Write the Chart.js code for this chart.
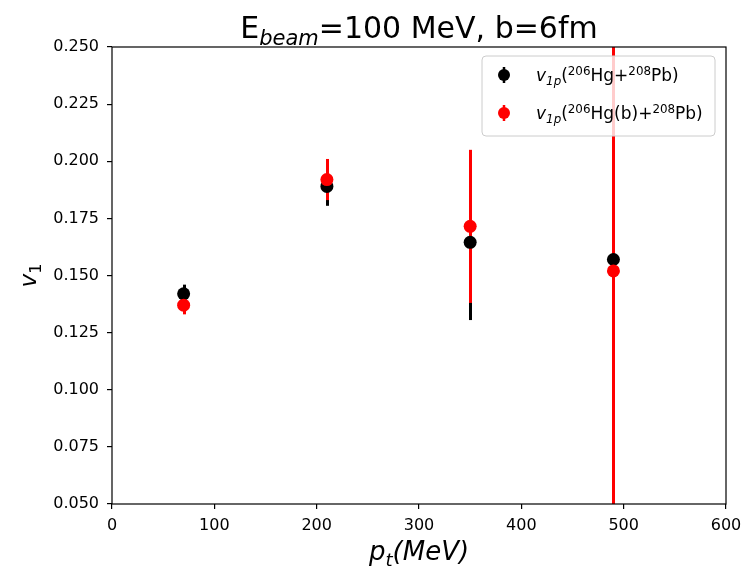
<!DOCTYPE html>
<html>
<head>
<meta charset="utf-8">
<script src="https://cdn.jsdelivr.net/npm/chart.js@4/dist/chart.umd.min.js"></script>
<style>
  html, body { margin: 0; padding: 0; background: #fff; }
</style>
</head>
<body>
<canvas id="chart" width="744" height="570"></canvas>
<script>
// values
const ptValues = [70, 210, 350, 490];
const v1Hg = [0.142, 0.189, 0.1645, 0.157];
const errHg = [0.004, 0.0085, 0.034, 0.06];
const v1HgB = [0.137, 0.192, 0.1715, 0.152];
const errHgB = [0.004, 0.009, 0.0335, 0.5];
const xTicks = [0, 100, 200, 300, 400, 500, 600];
const yTicks = [0.05, 0.075, 0.1, 0.125, 0.15, 0.175, 0.2, 0.225, 0.25];

const FONT = '"DejaVu Sans", sans-serif';

// mathtext-like pieces: {t, it, sub, sup}
function partFont(p, size) {
  const s = (p.sub || p.sup) ? size * 0.7 : size;
  return (p.it ? 'italic ' : '') + s + 'px ' + FONT;
}
function richWidth(ctx, parts, size) {
  let w = 0;
  parts.forEach(p => { ctx.font = partFont(p, size); w += ctx.measureText(p.t).width; });
  return w;
}
function drawRich(ctx, parts, x, y, size, align) {
  const w = richWidth(ctx, parts, size);
  let cx = align === 'center' ? x - w / 2 : x;
  ctx.textAlign = 'left';
  ctx.textBaseline = 'alphabetic';
  parts.forEach(p => {
    ctx.font = partFont(p, size);
    let dy = 0;
    if (p.sub) dy = size * 0.22;
    if (p.sup) dy = -size * 0.38;
    ctx.fillText(p.t, cx, y + dy);
    cx += ctx.measureText(p.t).width;
  });
}

const series = [
  { label: 'Hg', data: v1Hg, err: errHg, color: '#000000' },
  { label: 'HgB', data: v1HgB, err: errHgB, color: '#ff0000' }
];

const titleParts = [{ t: 'E' }, { t: 'beam', it: true, sub: true }, { t: '=100 MeV, b=6fm' }];
const xTitleParts = [{ t: 'p', it: true }, { t: 't', it: true, sub: true }, { t: '(MeV)', it: true }];
const yTitleParts = [{ t: 'v', it: true }, { t: '1', sub: true }];
const legendParts = [
  [{ t: 'v', it: true }, { t: '1p', it: true, sub: true }, { t: '(' }, { t: '206', sup: true }, { t: 'Hg+' }, { t: '208', sup: true }, { t: 'Pb)' }],
  [{ t: 'v', it: true }, { t: '1p', it: true, sub: true }, { t: '(' }, { t: '206', sup: true }, { t: 'Hg(b)+' }, { t: '208', sup: true }, { t: 'Pb)' }]
];

const errorBars = {
  id: 'errorBars',
  beforeDatasetsDraw(chart) {
    const { ctx, chartArea, scales } = chart;
    ctx.save();
    ctx.beginPath();
    ctx.rect(chartArea.left, chartArea.top, chartArea.right - chartArea.left, chartArea.bottom - chartArea.top);
    ctx.clip();
    ctx.lineWidth = 3;
    series.forEach(s => {
      ctx.strokeStyle = s.color;
      ptValues.forEach((pt, i) => {
        const px = Math.round(scales.x.getPixelForValue(pt)) + 0.5;
        const y1 = scales.y.getPixelForValue(s.data[i] - s.err[i]);
        const y2 = scales.y.getPixelForValue(s.data[i] + s.err[i]);
        ctx.beginPath();
        ctx.moveTo(px, y1);
        ctx.lineTo(px, y2);
        ctx.stroke();
      });
    });
    ctx.restore();
  },
  afterDatasetsDraw(chart) {
    const { ctx, chartArea } = chart;
    ctx.save();
    ctx.strokeStyle = '#000';
    ctx.lineWidth = 1.2;
    ctx.strokeRect(chartArea.left, chartArea.top, chartArea.right - chartArea.left, chartArea.bottom - chartArea.top);
    ctx.restore();
  },
  afterDraw(chart) {
    const { ctx, chartArea } = chart;
    const midX = (chartArea.left + chartArea.right) / 2;
    const midY = (chartArea.top + chartArea.bottom) / 2;
    ctx.save();
    ctx.fillStyle = '#000';
    drawRich(ctx, titleParts, midX, 38, 30, 'center');
    drawRich(ctx, xTitleParts, midX, 560, 26, 'center');
    ctx.translate(36, midY);
    ctx.rotate(-Math.PI / 2);
    drawRich(ctx, yTitleParts, 0, 0, 23, 'center');
    ctx.restore();

    // legend
    const bx = 482, by = 56, bw = 233, bh = 80, r = 4;
    ctx.save();
    ctx.beginPath();
    ctx.roundRect(bx, by, bw, bh, r);
    ctx.fillStyle = 'rgba(255,255,255,0.8)';
    ctx.fill();
    ctx.strokeStyle = '#cccccc';
    ctx.lineWidth = 1;
    ctx.stroke();
    series.forEach((s, i) => {
      const ly = by + 19 + i * 38;
      ctx.strokeStyle = s.color;
      ctx.fillStyle = s.color;
      ctx.lineWidth = 2.5;
      ctx.beginPath();
      ctx.moveTo(504, ly - 8);
      ctx.lineTo(504, ly + 8);
      ctx.stroke();
      ctx.beginPath();
      ctx.arc(504, ly, 6, 0, Math.PI * 2);
      ctx.fill();
      ctx.fillStyle = '#000';
      drawRich(ctx, legendParts[i], 536, ly + 6, 17, 'left');
    });
    ctx.restore();
  }
};

new Chart(document.getElementById('chart').getContext('2d'), {
  type: 'scatter',
  data: {
    datasets: series.map((s, k) => ({
      label: s.label,
      data: ptValues.map((pt, i) => ({ x: pt, y: s.data[i] })),
      backgroundColor: s.color,
      borderColor: s.color,
      pointRadius: 6.5,
      pointHoverRadius: 6.5,
      borderWidth: 0,
      order: 2 - k
    }))
  },
  options: {
    responsive: false,
    animation: false,
    devicePixelRatio: 1,
    layout: { padding: { left: 0, right: 18, top: 47, bottom: 0 } },
    plugins: {
      legend: { display: false },
      tooltip: { enabled: false }
    },
    scales: {
      x: {
        type: 'linear',
        min: 0,
        max: 600,
        afterBuildTicks: axis => { axis.ticks = xTicks.map(v => ({ value: v })); },
        afterFit: axis => { axis.height = 66; axis.paddingLeft = 0; axis.paddingRight = 0; },
        grid: { drawOnChartArea: false, drawTicks: true, tickLength: 5, color: '#000', lineWidth: 1.2 },
        border: { display: false },
        ticks: { color: '#000', padding: 7, font: { family: 'DejaVu Sans', size: 16 }, maxRotation: 0 }
      },
      y: {
        type: 'linear',
        min: 0.05,
        max: 0.25,
        afterBuildTicks: axis => { axis.ticks = yTicks.map(v => ({ value: v })); },
        afterFit: axis => { axis.width = 112; axis.paddingTop = 0; axis.paddingBottom = 0; },
        grid: { drawOnChartArea: false, drawTicks: true, tickLength: 5, color: '#000', lineWidth: 1.2 },
        border: { display: false },
        ticks: { color: '#000', padding: 8, font: { family: 'DejaVu Sans', size: 16 }, callback: v => v.toFixed(3) }
      }
    }
  },
  plugins: [errorBars]
});
</script>
</body>
</html>
